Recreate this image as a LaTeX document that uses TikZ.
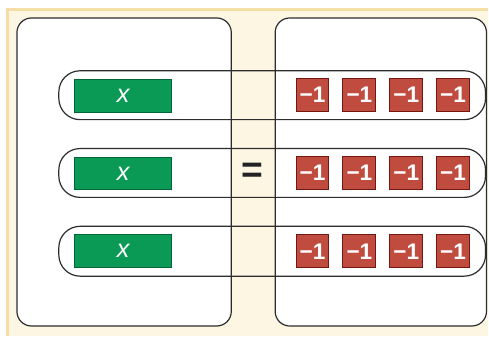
\documentclass[tikz,border=0pt]{standalone}
\usepackage{fontspec}
\setmainfont{Liberation Sans}

\tikzset{every picture/.style={line width=0.75pt}}
\tikzset{
  xtile/.style={draw={rgb, 255:red, 0; green, 102; blue, 52 },fill={rgb, 255:red, 10; green, 154; blue, 86 },line width=0.75pt,minimum width=72.75pt,minimum height=24.75pt,inner sep=0pt,text=white,font=\fontsize{19}{19}\selectfont\itshape},
  negtile/.style={draw={rgb, 255:red, 118; green, 22; blue, 16 },fill={rgb, 255:red, 192; green, 76; blue, 63 },line width=0.75pt,minimum width=24.75pt,minimum height=24.75pt,inner sep=0pt,text=white,font=\fontsize{17}{17}\selectfont\bfseries},
  panel/.style={draw={rgb, 255:red, 45; green, 45; blue, 45 },fill=white,line width=0.9pt,rounded corners=11pt},
  rowbar/.style={draw={rgb, 255:red, 45; green, 45; blue, 45 },line width=0.9pt,rounded corners=16pt}
}

\begin{document}
\begin{tikzpicture}[x=0.75pt,y=0.75pt,yscale=-1,xscale=1]
\path (0,0) rectangle (489,337); %set diagram size

%Shape: Rectangle [id:background]
\fill [color={rgb, 255:red, 253; green, 246; blue, 227 }] (7,9) rectangle (489,337) ;
%Straight Lines [id:border]
\draw [color={rgb, 255:red, 245; green, 221; blue, 166 },line width=2.25pt] (7.5,337) -- (7.5,9.5) -- (489,9.5) ;

%Shape: Rounded Rect [id:leftpanel]
\draw [panel] (17,18) rectangle (232,327) ;
%Shape: Rounded Rect [id:rightpanel]
\draw [panel] (276,18) rectangle (488,327) ;

%Shape: Rounded Rect [id:rowone]
\draw [rowbar] (59,71) rectangle (487,120) ;
%Shape: Rounded Rect [id:rowtwo]
\draw [rowbar] (59,149) rectangle (487,198) ;
%Shape: Rounded Rect [id:rowthree]
\draw [rowbar] (59,227) rectangle (487,277) ;

% Text Node
\node [xtile] (xa) at (123.5,96.5) {x};
% Text Node
\node [xtile] (xb) at (123.5,174) {x};
% Text Node
\node [xtile] (xc) at (123.5,252) {x};

% Text Node
\node [negtile] (na1) at (313.5,95.5) {−1};
\node [negtile] (na2) at (360.5,95.5) {−1};
\node [negtile] (na3) at (407.5,95.5) {−1};
\node [negtile] (na4) at (454.5,95.5) {−1};
% Text Node
\node [negtile] (nb1) at (313.5,173.5) {−1};
\node [negtile] (nb2) at (360.5,173.5) {−1};
\node [negtile] (nb3) at (407.5,173.5) {−1};
\node [negtile] (nb4) at (454.5,173.5) {−1};
% Text Node
\node [negtile] (nc1) at (313.5,252) {−1};
\node [negtile] (nc2) at (360.5,252) {−1};
\node [negtile] (nc3) at (407.5,252) {−1};
\node [negtile] (nc4) at (454.5,252) {−1};

% Text Node
\node [inner sep=0pt,text={rgb, 255:red, 35; green, 35; blue, 35 },font=\fontsize{28}{28}\selectfont\bfseries] (equals) at (253.5,173) {=};
\end{tikzpicture}
\end{document}
